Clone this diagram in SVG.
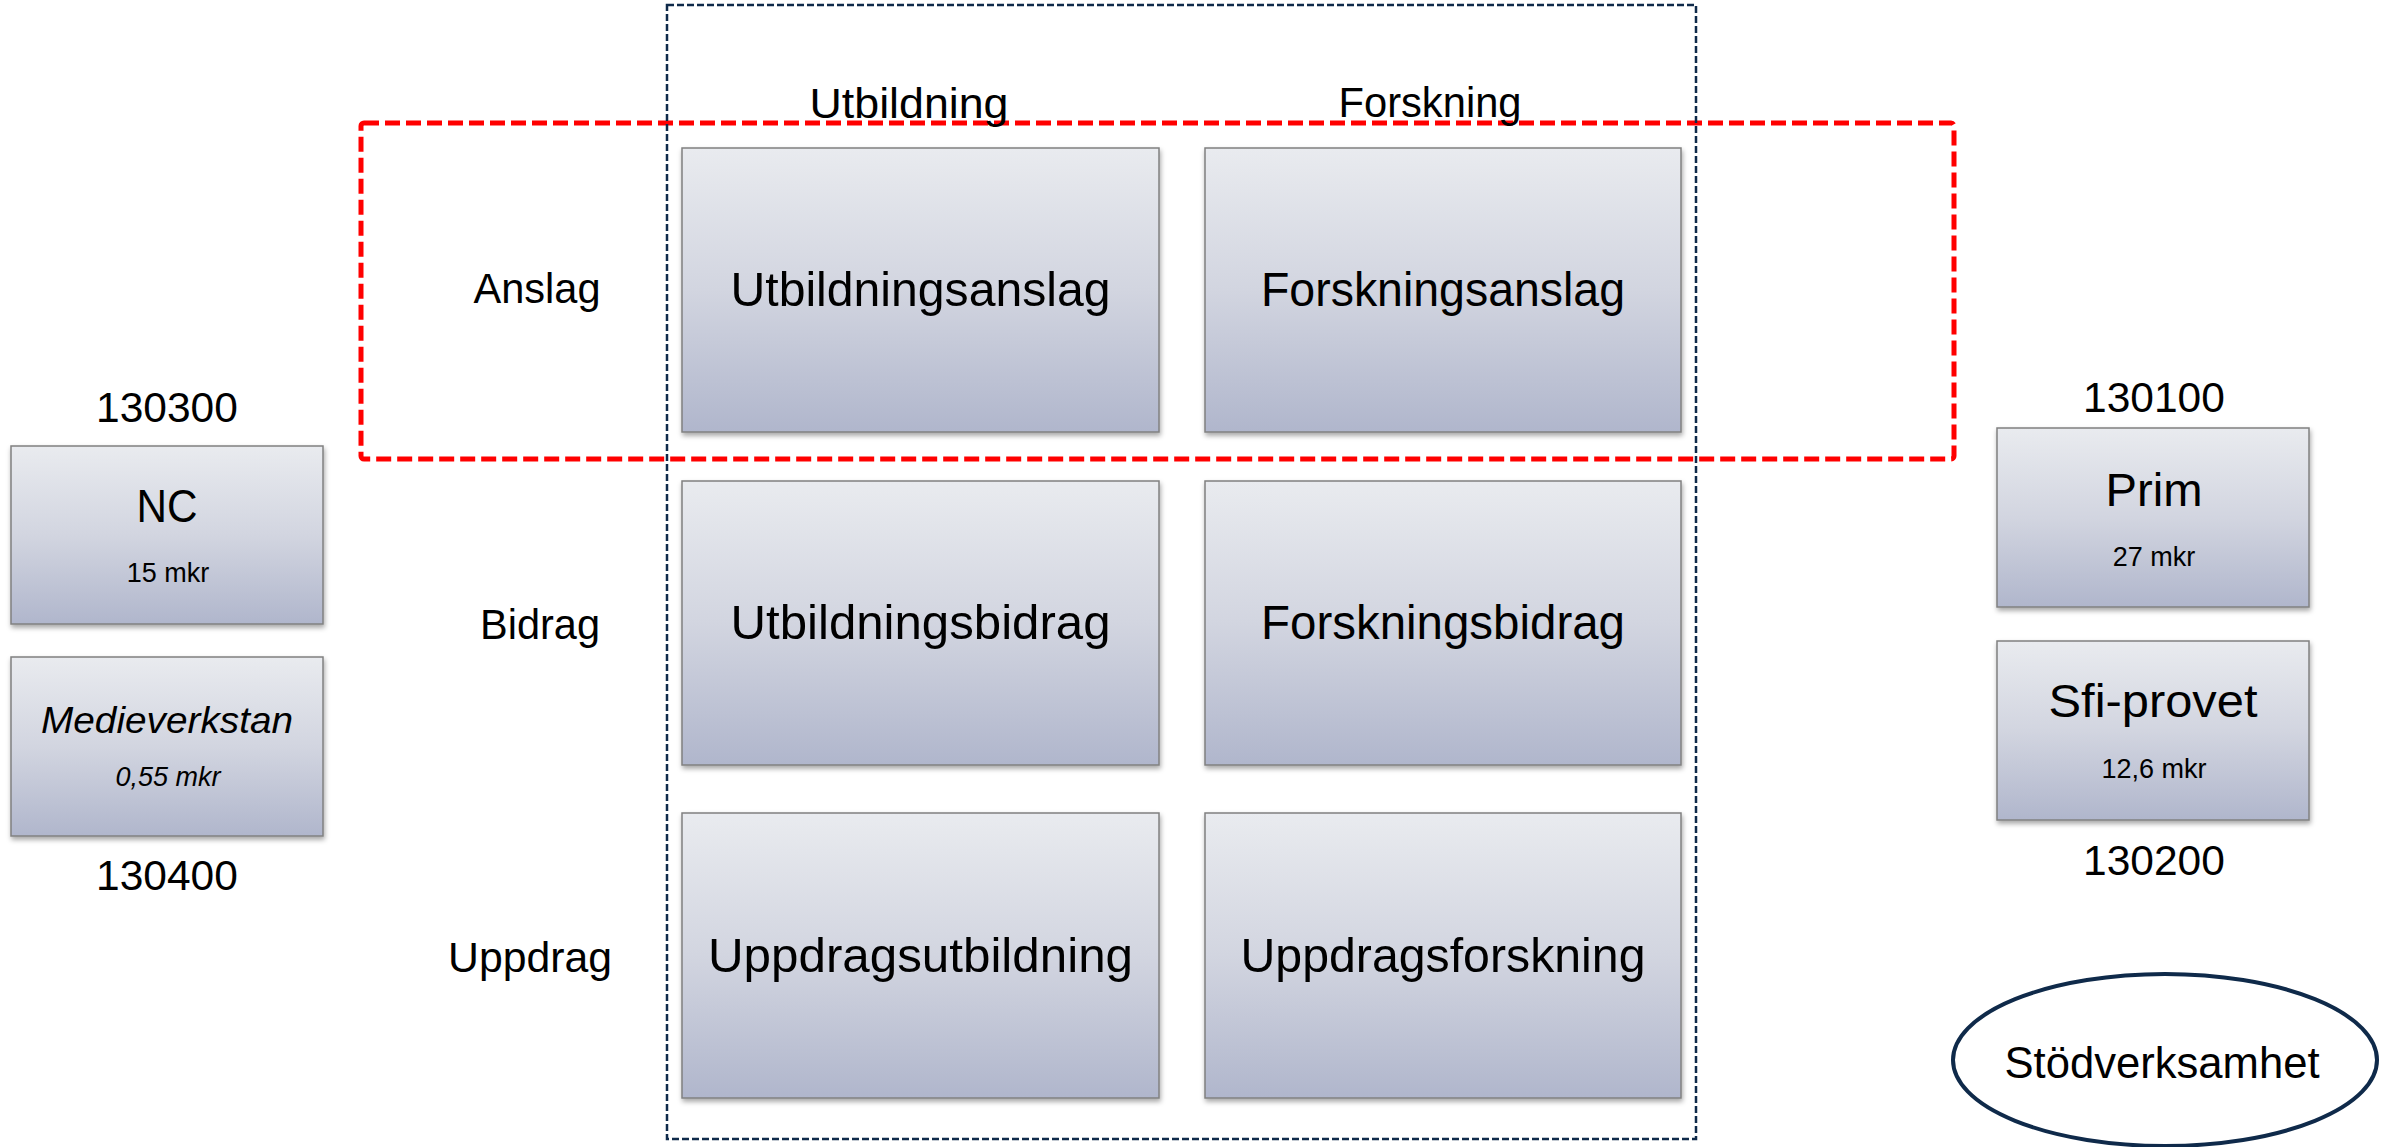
<svg xmlns="http://www.w3.org/2000/svg" width="2390" height="1147" viewBox="0 0 2390 1147">
  <defs>
    <linearGradient id="boxGrad" x1="0" y1="0" x2="0" y2="1">
      <stop offset="0" stop-color="#E9EBEF"/>
      <stop offset="0.5" stop-color="#D2D5E0"/>
      <stop offset="1" stop-color="#B0B6CC"/>
    </linearGradient>
    <filter id="shadow" x="-5%" y="-5%" width="110%" height="115%">
      <feDropShadow dx="1" dy="3" stdDeviation="2.5" flood-color="#000" flood-opacity="0.35"/>
    </filter>
    <style>
      .box { fill: url(#boxGrad); stroke: #808080; stroke-width: 1.5; filter: url(#shadow); }
      .t { font-family: "Liberation Sans", Arial, sans-serif; fill: #000; text-anchor: middle; }
      .big { font-size: 48px; }
      .lbl { font-size: 42px; }
      .num { font-size: 42.5px; }
      .title { font-size: 46px; }
      .sub { font-size: 27px; }
      .it { font-style: italic; }
      .redframe { fill: none; stroke: #FF0000; stroke-width: 5; stroke-dasharray: 15 6; }
      .navyframe { fill: none; stroke: #0F2A4A; stroke-width: 2.5; stroke-dasharray: 7 3; }
    </style>
  </defs>
  <rect width="2390" height="1147" fill="#FFFFFF"/>

  <g id="frames">
    <rect id="anslag-frame" class="redframe" x="361" y="123" width="1593" height="336" rx="3"/>
    <rect id="core-frame" class="navyframe" x="667" y="5" width="1029" height="1134"/>
  </g>

  <g id="headers">
    <text class="t lbl" x="909" y="118" textLength="199" lengthAdjust="spacingAndGlyphs">Utbildning</text>
    <text class="t lbl" x="1430" y="117" textLength="183" lengthAdjust="spacingAndGlyphs">Forskning</text>
    <text class="t lbl" x="537" y="303" textLength="127" lengthAdjust="spacingAndGlyphs">Anslag</text>
    <text class="t lbl" x="540" y="639" textLength="120" lengthAdjust="spacingAndGlyphs">Bidrag</text>
    <text class="t lbl" x="530" y="972" textLength="164" lengthAdjust="spacingAndGlyphs">Uppdrag</text>
  </g>

  <g id="utbildningsanslag">
    <rect class="box" x="682" y="148" width="477" height="284"/>
    <text class="t big" x="920.5" y="306" textLength="380" lengthAdjust="spacingAndGlyphs">Utbildningsanslag</text>
  </g>
  <g id="forskningsanslag">
    <rect class="box" x="1205" y="148" width="476" height="284"/>
    <text class="t big" x="1443" y="306" textLength="364" lengthAdjust="spacingAndGlyphs">Forskningsanslag</text>
  </g>
  <g id="utbildningsbidrag">
    <rect class="box" x="682" y="481" width="477" height="284"/>
    <text class="t big" x="920.5" y="639" textLength="380" lengthAdjust="spacingAndGlyphs">Utbildningsbidrag</text>
  </g>
  <g id="forskningsbidrag">
    <rect class="box" x="1205" y="481" width="476" height="284"/>
    <text class="t big" x="1443" y="639" textLength="364" lengthAdjust="spacingAndGlyphs">Forskningsbidrag</text>
  </g>
  <g id="uppdragsutbildning">
    <rect class="box" x="682" y="813" width="477" height="285"/>
    <text class="t big" x="920.5" y="972" textLength="425" lengthAdjust="spacingAndGlyphs">Uppdragsutbildning</text>
  </g>
  <g id="uppdragsforskning">
    <rect class="box" x="1205" y="813" width="476" height="285"/>
    <text class="t big" x="1443" y="972" textLength="405" lengthAdjust="spacingAndGlyphs">Uppdragsforskning</text>
  </g>

  <g id="nc">
    <text class="t num" x="167" y="422">130300</text>
    <rect class="box" x="11" y="446" width="312" height="178"/>
    <text class="t title" x="167" y="522" textLength="61" lengthAdjust="spacingAndGlyphs">NC</text>
    <text class="t sub" x="168" y="582">15 mkr</text>
  </g>
  <g id="medieverkstan">
    <rect class="box" x="11" y="657" width="312" height="179"/>
    <text class="t it" x="167" y="733" font-size="36" textLength="252" lengthAdjust="spacingAndGlyphs">Medieverkstan</text>
    <text class="t sub it" x="168" y="786">0,55 mkr</text>
    <text class="t num" x="167" y="890">130400</text>
  </g>

  <g id="prim">
    <text class="t num" x="2154" y="412">130100</text>
    <rect class="box" x="1997" y="428" width="312" height="179"/>
    <text class="t title" x="2154" y="506" textLength="97" lengthAdjust="spacingAndGlyphs">Prim</text>
    <text class="t sub" x="2154" y="566">27 mkr</text>
  </g>
  <g id="sfi-provet">
    <rect class="box" x="1997" y="641" width="312" height="179"/>
    <text class="t title" x="2153" y="717" textLength="209" lengthAdjust="spacingAndGlyphs">Sfi-provet</text>
    <text class="t sub" x="2154" y="778">12,6 mkr</text>
    <text class="t num" x="2154" y="875">130200</text>
  </g>

  <g id="stodverksamhet">
    <ellipse cx="2165" cy="1060" rx="212" ry="86" fill="#FFFFFF" stroke="#0F2A4A" stroke-width="4"/>
    <text class="t" x="2162" y="1078" font-size="44" textLength="315" lengthAdjust="spacingAndGlyphs">Stödverksamhet</text>
  </g>

  <g id="connectors"/>
</svg>
